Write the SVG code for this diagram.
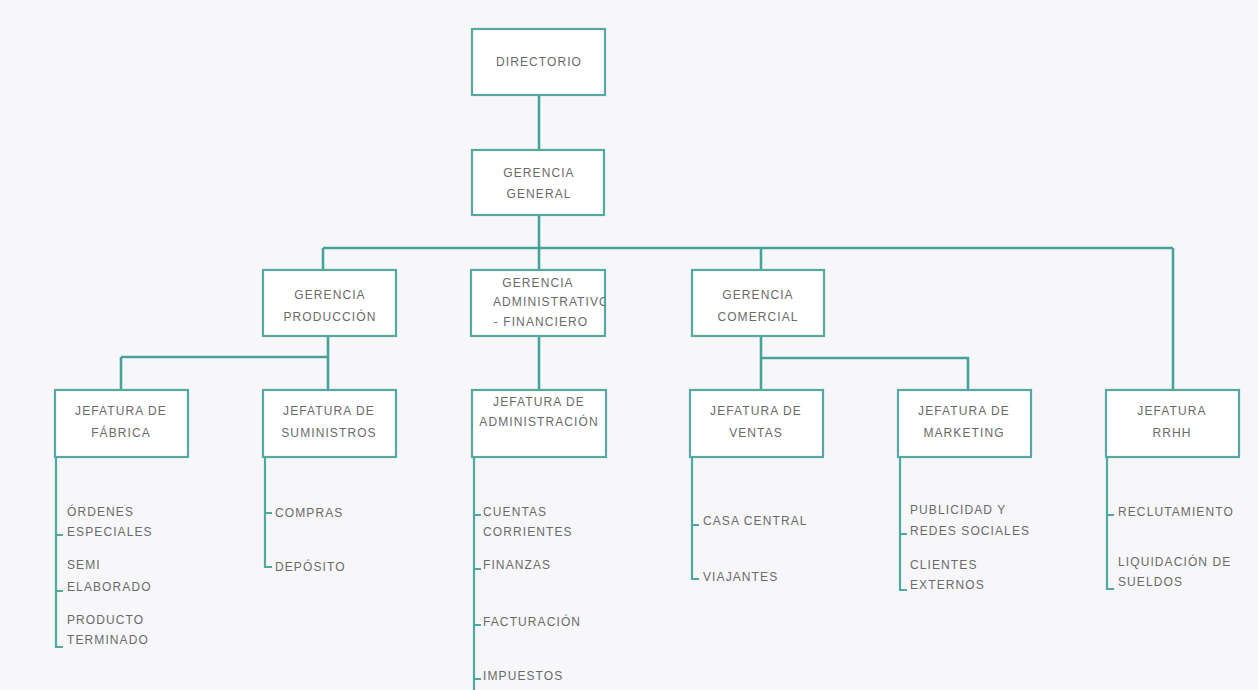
<svg xmlns="http://www.w3.org/2000/svg" width="1258" height="690" viewBox="0 0 1258 690">
<style>
.box{fill:#ffffff;stroke:#56a8a1;stroke-width:2.2}
.ln{fill:none;stroke:#46a39b;stroke-width:2.6}
.ls{fill:none;stroke:#4fa9a1;stroke-width:2.2}
text{font-family:"Liberation Sans",Arial,sans-serif;font-size:12px;fill:#6a6a6a;letter-spacing:1.1px}
.c{text-anchor:middle}
</style>
<defs>
<clipPath id="clipGA"><rect x="471" y="270" width="134" height="66"/></clipPath>
</defs>
<rect x="0" y="0" width="1258" height="690" fill="#f7f7fa"/>
<g id="connectors">
<path class="ln" d="M539 95 V150"/>
<path class="ln" d="M539 215 V248"/>
<path class="ln" d="M323 248 H1173"/>
<path class="ln" d="M323 248 V270"/>
<path class="ln" d="M539 248 V270"/>
<path class="ln" d="M761 248 V270"/>
<path class="ln" d="M1173 248 V390"/>
<path class="ln" d="M328 336 V390"/>
<path class="ln" d="M121 357 H328"/>
<path class="ln" d="M121 357 V390"/>
<path class="ln" d="M539 336 V390"/>
<path class="ln" d="M761 336 V390"/>
<path class="ln" d="M761 358 H968 V390"/>
<path class="ls" d="M56 457 V647 H63 M56 535 H63 M56 591 H63"/>
<path class="ls" d="M265 457 V567 H272 M265 513 H272"/>
<path class="ls" d="M474 457 V690 M474 515 H481 M474 569 H481 M474 625 H481 M474 679 H481"/>
<path class="ls" d="M692 457 V579 H699 M692 525 H699"/>
<path class="ls" d="M900 457 V590 H907 M900 534 H907"/>
<path class="ls" d="M1107 457 V589 H1114 M1107 515 H1114"/>
</g>
<g id="directorio">
<rect class="box" x="472" y="29" width="133" height="66"/>
<text class="c" x="539" y="66">DIRECTORIO</text>
</g>
<g id="gerencia-general">
<rect class="box" x="472" y="150" width="132" height="65"/>
<text class="c" x="539" y="177">GERENCIA</text>
<text class="c" x="539" y="198">GENERAL</text>
</g>
<g id="gerencia-produccion">
<rect class="box" x="263" y="270" width="133" height="66"/>
<text class="c" x="330" y="299">GERENCIA</text>
<text class="c" x="330" y="321">PRODUCCIÓN</text>
</g>
<g id="gerencia-administrativo">
<rect class="box" x="471" y="270" width="134" height="66"/>
<g clip-path="url(#clipGA)">
<text class="c" x="538" y="287">GERENCIA</text>
<text x="493" y="306">ADMINISTRATIVO</text>
<text class="c" x="541" y="326">- FINANCIERO</text>
</g>
</g>
<g id="gerencia-comercial">
<rect class="box" x="692" y="270" width="132" height="66"/>
<text class="c" x="758" y="299">GERENCIA</text>
<text class="c" x="758" y="321">COMERCIAL</text>
</g>
<g id="jefatura-fabrica">
<rect class="box" x="55" y="390" width="133" height="67"/>
<text class="c" x="121" y="415">JEFATURA DE</text>
<text class="c" x="121" y="437">FÁBRICA</text>
</g>
<g id="jefatura-suministros">
<rect class="box" x="263" y="390" width="133" height="67"/>
<text class="c" x="329" y="415">JEFATURA DE</text>
<text class="c" x="329" y="437">SUMINISTROS</text>
</g>
<g id="jefatura-administracion">
<rect class="box" x="472" y="390" width="134" height="67"/>
<text class="c" x="539" y="406">JEFATURA DE</text>
<text class="c" x="539" y="426">ADMINISTRACIÓN</text>
</g>
<g id="jefatura-ventas">
<rect class="box" x="690" y="390" width="133" height="67"/>
<text class="c" x="756" y="415">JEFATURA DE</text>
<text class="c" x="756" y="437">VENTAS</text>
</g>
<g id="jefatura-marketing">
<rect class="box" x="898" y="390" width="133" height="67"/>
<text class="c" x="964" y="415">JEFATURA DE</text>
<text class="c" x="964" y="437">MARKETING</text>
</g>
<g id="jefatura-rrhh">
<rect class="box" x="1106" y="390" width="133" height="67"/>
<text class="c" x="1172" y="415">JEFATURA</text>
<text class="c" x="1172" y="437">RRHH</text>
</g>
<g id="items-fabrica">
<text x="67" y="516">ÓRDENES</text>
<text x="67" y="536">ESPECIALES</text>
<text x="67" y="569">SEMI</text>
<text x="67" y="591">ELABORADO</text>
<text x="67" y="624">PRODUCTO</text>
<text x="67" y="644">TERMINADO</text>
</g>
<g id="items-suministros">
<text x="275" y="517">COMPRAS</text>
<text x="275" y="571">DEPÓSITO</text>
</g>
<g id="items-administracion">
<text x="483" y="516">CUENTAS</text>
<text x="483" y="536">CORRIENTES</text>
<text x="483" y="569">FINANZAS</text>
<text x="483" y="626">FACTURACIÓN</text>
<text x="483" y="680">IMPUESTOS</text>
</g>
<g id="items-ventas">
<text x="703" y="525">CASA CENTRAL</text>
<text x="703" y="581">VIAJANTES</text>
</g>
<g id="items-marketing">
<text x="910" y="514">PUBLICIDAD Y</text>
<text x="910" y="535">REDES SOCIALES</text>
<text x="910" y="569">CLIENTES</text>
<text x="910" y="589">EXTERNOS</text>
</g>
<g id="items-rrhh">
<text x="1118" y="516">RECLUTAMIENTO</text>
<text x="1118" y="566">LIQUIDACIÓN DE</text>
<text x="1118" y="586">SUELDOS</text>
</g>
</svg>
